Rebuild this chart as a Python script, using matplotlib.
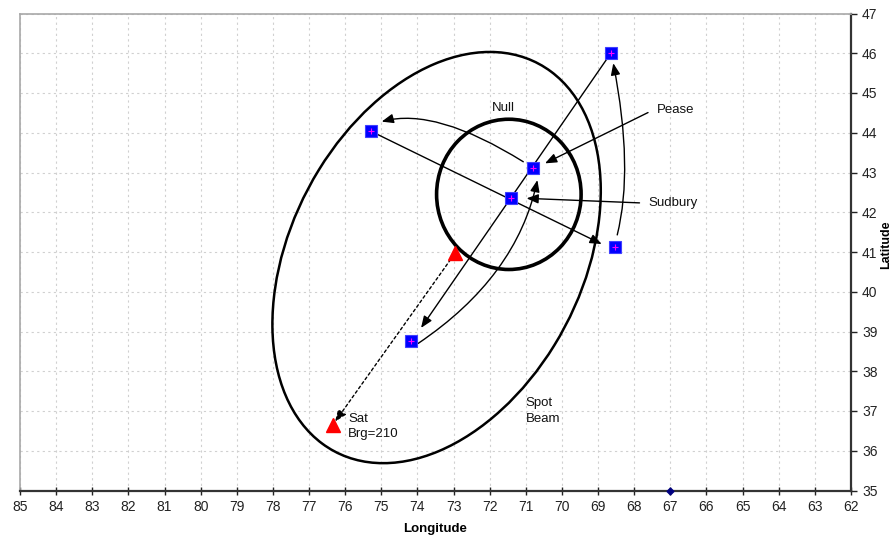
import numpy as np
import matplotlib
matplotlib.use("Agg")
import matplotlib.pyplot as plt
from matplotlib.patches import Ellipse

plt.rcParams['font.family'] = ['Liberation Sans', 'DejaVu Sans']

# ---- data ----
blue_lon = [68.64, 75.29, 70.80, 71.41, 68.53, 74.18]
blue_lat = [46.01, 44.04, 43.11, 42.36, 41.13, 38.76]

sat_lon = [72.95, 76.34]
sat_lat = [40.98, 36.65]

origin_lon = [67.0]
origin_lat = [35.0]

null_center = (71.47, 42.45)
null_width = 4.0
null_height = 3.78

beam_center = (73.47, 40.86)
beam_width = 11.3
beam_height = 7.87
beam_angle = 124.1

# straight arrows: (start lon, start lat, end lon, end lat)
straight_arrows = [
    (68.64, 46.01, 73.90, 39.09),
    (75.29, 44.04, 68.90, 41.20),
    (67.48, 44.57, 70.47, 43.23),
    (67.70, 42.23, 70.98, 42.35),
]
# curved arrows: (start lon, start lat, end lon, end lat, angleA, angleB)
curved_arrows = [
    (71.07, 43.27, 74.99, 44.28, -32, 15),
    (68.47, 41.43, 68.58, 45.75, 76, 101),
    (73.98, 38.70, 70.68, 42.81, 34, 78),
]
# dotted bearing arrow
bearing_arrow = (72.95, 40.98, 76.28, 36.73)

labels = ["Null", "Pease", "Sudbury", "Sat\nBrg=210", "Spot\nBeam"]
label_lon = [71.63, 67.37, 67.62, 75.92, 71.0]
label_lat = [44.62, 44.57, 42.23, 36.61, 37.0]
label_ha = ["center", "left", "left", "left", "left"]

x_ticks = list(range(62, 86))
y_ticks = list(range(35, 48))

# ---- figure ----
fig = plt.figure(figsize=(8.93, 5.41), dpi=100)
ax = fig.add_axes([20 / 893, 1 - 490.5 / 541, 831 / 893, 477 / 541])
ax.set_xlim(85, 62)
ax.set_ylim(35, 47)
ax.set_xticks(x_ticks)
ax.set_yticks(y_ticks)

ax.grid(True, color='#d0d0d0', linestyle=(0, (2, 3)), linewidth=0.8)
ax.set_axisbelow(True)

ax.yaxis.tick_right()
ax.yaxis.set_label_position('right')
ax.tick_params(axis='x', direction='inout', length=6, width=1, labelsize=10, pad=4, colors='#222222')
ax.tick_params(axis='y', direction='out', length=4, width=1, labelsize=10, pad=4, colors='#222222')
for side in ['left', 'top']:
    ax.spines[side].set_color('#a8a8a8')
    ax.spines[side].set_linewidth(1.2)
for side in ['bottom', 'right']:
    ax.spines[side].set_color('#333333')
    ax.spines[side].set_linewidth(1.6)

ax.set_xlabel('Longitude', fontsize=9.5, fontweight='bold', labelpad=6)
ax.set_ylabel('Latitude', fontsize=9, fontweight='bold', va='center', rotation=90)
ax.yaxis.set_label_coords(1.0425, 0.515)

# ellipses
ax.add_patch(Ellipse(beam_center, beam_width, beam_height, angle=beam_angle,
                     fill=False, edgecolor='black', linewidth=1.8, zorder=3))
ax.add_patch(Ellipse(null_center, null_width, null_height,
                     fill=False, edgecolor='black', linewidth=2.6, zorder=3))

arrow_kw = dict(arrowstyle='-|>,head_length=0.5,head_width=0.2', color='black',
                lw=1.0, mutation_scale=14)

for (x0, y0, x1, y1) in straight_arrows:
    ax.annotate('', xy=(x1, y1), xytext=(x0, y0),
                arrowprops=dict(**arrow_kw, shrinkA=4, shrinkB=0), zorder=4)

for (x0, y0, x1, y1, aA, aB) in curved_arrows:
    ax.annotate('', xy=(x1, y1), xytext=(x0, y0),
                arrowprops=dict(**arrow_kw, shrinkA=0, shrinkB=0,
                                connectionstyle=f'angle3,angleA={aA},angleB={aB}'),
                zorder=4)

bx0, by0, bx1, by1 = bearing_arrow
ax.annotate('', xy=(bx1, by1), xytext=(bx0, by0),
            arrowprops=dict(arrowstyle='-|>,head_length=0.5,head_width=0.2', color='black',
                            lw=1.0, linestyle=(0, (2, 2)), mutation_scale=14,
                            shrinkA=6, shrinkB=0), zorder=4)

# markers
ax.plot(blue_lon, blue_lat, linestyle='none', marker='s', markersize=8.5,
        markerfacecolor='#0000ff', markeredgecolor='#4040ff', markeredgewidth=0.8, zorder=5)
ax.plot(blue_lon, blue_lat, linestyle='none', marker='+', markersize=4,
        markeredgecolor='#ff00ff', markeredgewidth=0.8, zorder=6)
ax.plot(sat_lon, sat_lat, linestyle='none', marker='^', markersize=10,
        markerfacecolor='#ff0000', markeredgecolor='#ff0000', zorder=5)
ax.plot(origin_lon, origin_lat, linestyle='none', marker='D', markersize=3.5,
        color='#000080', clip_on=False, zorder=7)

for txt, lx, ly, ha in zip(labels, label_lon, label_lat, label_ha):
    ax.text(lx, ly, txt, ha=ha, va='center', fontsize=9.5, color='#111111',
            linespacing=1.4, zorder=6)

fig.savefig('out.png', dpi=100)
